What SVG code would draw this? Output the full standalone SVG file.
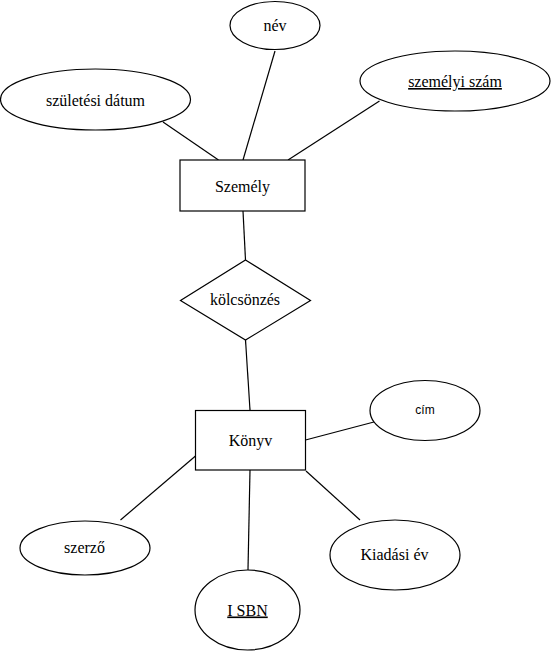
<svg xmlns="http://www.w3.org/2000/svg" width="551" height="651" viewBox="0 0 551 651">
<style>
.s{fill:#fff;stroke:#000;stroke-width:1.2}
.t{font-family:"Liberation Serif","DejaVu Serif",serif;font-size:16px;fill:#000;text-anchor:middle}
.a{font-family:"Liberation Sans",Arial,sans-serif;font-size:12px;fill:#000;text-anchor:middle}
.c line{stroke:#000;stroke-width:1.2}
</style>
<rect width="551" height="651" fill="#fff"/>
<g class="c" id="connectors">
<line x1="163" y1="122" x2="218.5" y2="160"/>
<line x1="275" y1="51" x2="243" y2="160"/>
<line x1="379.5" y1="101" x2="288" y2="160"/>
<line x1="243" y1="211" x2="245.5" y2="260"/>
<line x1="245.5" y1="340" x2="250" y2="410"/>
<line x1="305.5" y1="440" x2="377.7" y2="421"/>
<line x1="195.5" y1="456" x2="120.5" y2="520"/>
<line x1="250" y1="470" x2="248" y2="570"/>
<line x1="306" y1="471" x2="360" y2="520"/>
</g>
<g id="nev"><ellipse class="s" cx="275" cy="25.5" rx="45" ry="24"/><text class="t" x="275" y="31">név</text></g>
<g id="szuletesi"><ellipse class="s" cx="95.5" cy="99.5" rx="95" ry="30.5"/><text class="t" x="95.5" y="105.5">születési dátum</text></g>
<g id="szemelyiszam"><ellipse class="s" cx="455" cy="81" rx="95" ry="30"/><text class="t" x="455" y="87" text-decoration="underline">személyi szám</text></g>
<g id="szemely"><rect class="s" x="180" y="160" width="125" height="51"/><text class="t" x="242.5" y="191.5">Személy</text></g>
<g id="kolcsonzes"><polygon class="s" points="245.5,260 310.5,300.5 245.5,340 180.5,300.5"/><text class="t" x="245" y="305">kölcsönzés</text></g>
<g id="konyv"><rect class="s" x="195.5" y="410.5" width="110" height="59.5"/><text class="t" x="250.5" y="446">Könyv</text></g>
<g id="cim"><ellipse class="s" cx="425" cy="410.5" rx="55" ry="30"/><text class="a" x="425" y="414">cím</text></g>
<g id="szerzo"><ellipse class="s" cx="85" cy="548" rx="65" ry="27"/><text class="t" x="84.5" y="553">szerző</text></g>
<g id="isbn"><ellipse class="s" cx="247.5" cy="610" rx="52.5" ry="40"/><text class="t" x="247.5" y="615.5" text-decoration="underline">I SBN</text></g>
<g id="kiadasi"><ellipse class="s" cx="395" cy="555" rx="65" ry="35"/><text class="t" x="394.5" y="560">Kiadási év</text></g>
</svg>
